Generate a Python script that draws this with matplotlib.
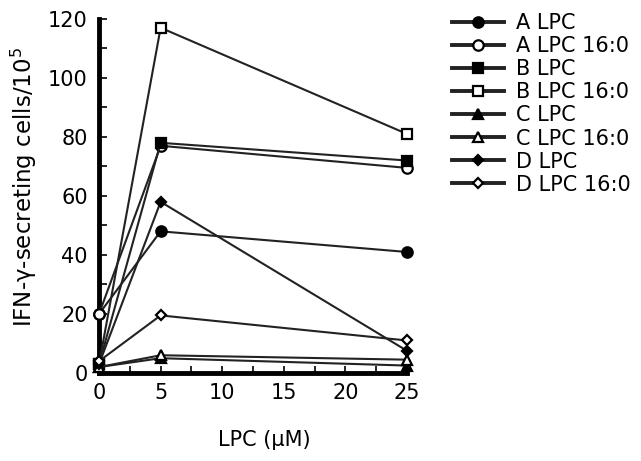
import matplotlib
matplotlib.use("Agg")
import matplotlib.pyplot as plt
from matplotlib.ticker import MultipleLocator

plt.rcParams['font.family'] = ['DejaVu Sans']

x = [0, 5, 25]
labels = ["A LPC", "A LPC 16:0", "B LPC", "B LPC 16:0",
          "C LPC", "C LPC 16:0", "D LPC", "D LPC 16:0"]
a_lpc = [20, 48, 41]
a_lpc160 = [20, 77, 69.5]
b_lpc = [3, 78, 72]
b_lpc160 = [3, 117, 81]
c_lpc = [2, 5, 2.5]
c_lpc160 = [2, 6, 4.5]
d_lpc = [3, 58, 7.5]
d_lpc160 = [4, 19.5, 11]
series = [a_lpc, a_lpc160, b_lpc, b_lpc160, c_lpc, c_lpc160, d_lpc, d_lpc160]

markers = ['o', 'o', 's', 's', '^', '^', 'D', 'D']
filled = [True, False, True, False, True, False, True, False]
msizes = [7.5, 7.5, 7, 7, 7.5, 7.5, 5.2, 5.2]

fig = plt.figure(figsize=(6.41, 4.61), dpi=100)
ax = fig.add_axes([0.1545, 0.191, 0.4805, 0.768])

for ys, lab, m, f, ms in zip(series, labels, markers, filled, msizes):
    ax.plot(x, ys, color='#222222', lw=1.5, marker=m, ms=ms,
            mfc='black' if f else 'white', mec='black', mew=1.6,
            label=lab, clip_on=False, zorder=3)

ax.set_xlim(0, 25)
ax.set_ylim(0, 120)
ax.xaxis.set_major_locator(MultipleLocator(5))
ax.xaxis.set_minor_locator(MultipleLocator(2.5))
ax.yaxis.set_major_locator(MultipleLocator(20))
ax.yaxis.set_minor_locator(MultipleLocator(10))
for s in ['top', 'right']:
    ax.spines[s].set_visible(False)
for s in ['left', 'bottom']:
    ax.spines[s].set_linewidth(3.5)
ax.tick_params(axis='both', which='both', direction='in', width=1.2,
               labelsize=15, color='black')
ax.tick_params(axis='y', which='both', length=6, pad=8)
ax.tick_params(axis='x', which='both', length=5, pad=7)

ax.set_ylabel("IFN-γ-secreting cells/10$^{\\mathregular{5}}$", fontsize=16.5)
ax.yaxis.set_label_coords(-0.195, 0.525)
fig.text(0.413, 0.046, "LPC (μM)", fontsize=15, ha='center', va='center')

leg = ax.legend(loc='upper left', bbox_to_anchor=(0.705, 0.972),
                bbox_transform=fig.transFigure, frameon=False, fontsize=15,
                handlelength=2.5, handletextpad=0.6, labelspacing=0.15,
                borderpad=0, borderaxespad=0)
for ln in leg.get_lines():
    ln.set_linewidth(2.8)

fig.savefig("out.png", dpi=100)
